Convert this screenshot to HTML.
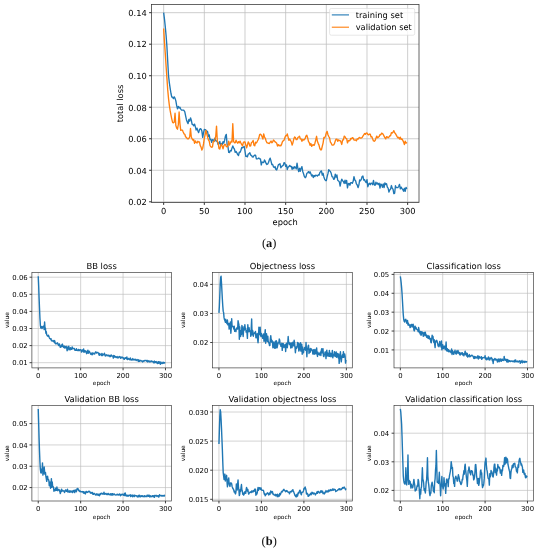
<!DOCTYPE html>
<html lang="en">
<head>
<meta charset="utf-8">
<title>Training and validation loss curves</title>
<style>
html,body{margin:0;padding:0;background:#fff;}
body{width:539px;height:550px;overflow:hidden;}
svg{display:block;}
text{text-rendering:geometricPrecision;}
svg{will-change:transform;transform:translateZ(0);}
</style>
</head>
<body>
<svg width="539" height="550" viewBox="0 0 539 550">
<rect width="539" height="550" fill="#fff"/>
<g>
<rect x="151.5" y="4.5" width="267.5" height="198" fill="#fff"/>
<path d="M163.66 4.5V202.5M204.32 4.5V202.5M244.99 4.5V202.5M285.66 4.5V202.5M326.32 4.5V202.5M366.99 4.5V202.5M407.65 4.5V202.5M151.5 201.8H419M151.5 170.28H419M151.5 138.76H419M151.5 107.24H419M151.5 75.72H419M151.5 44.2H419M151.5 12.68H419" stroke="#bdbdbd" stroke-width="0.75" fill="none"/>
<clipPath id="cA"><rect x="151.5" y="4.5" width="267.5" height="198"/></clipPath>
<g clip-path="url(#cA)">
<polyline points="163.66,12.68 164.47,18.98 165.29,26.86 166.1,35.53 166.91,46.56 167.73,61.54 168.54,75.72 169.35,82.81 170.17,88.33 170.98,93.52 171.79,97.04 172.61,97.11 173.42,98.56 174.23,96.89 175.05,98.35 175.86,100.87 176.67,105.57 177.49,108.81 178.3,106.39 179.11,108.05 179.93,107.17 180.74,109.08 181.55,110.07 182.37,110.09 183.18,110.13 183.99,110.49 184.81,111.86 185.62,115.96 186.43,119.68 187.25,121.93 188.06,123.61 188.87,119.5 189.69,121.14 190.5,117.82 191.31,120.15 192.13,124.36 192.94,124.52 193.75,125.77 194.57,124.1 195.38,126.86 196.19,129.96 197.01,128.16 197.82,130.65 198.63,132.66 199.45,129.88 200.26,128.6 201.07,129.06 201.88,131.09 202.7,137.31 203.51,132.93 204.32,129.46 205.14,129.55 205.95,130.18 206.76,131.14 207.58,131.66 208.39,136.31 209.2,134.87 210.02,139.67 210.83,139.27 211.64,142.3 212.46,139.61 213.27,139.95 214.08,141.43 214.9,138.21 215.71,140.93 216.52,140.85 217.34,141.89 218.15,144.57 218.96,143.19 219.78,141.42 220.59,145.71 221.4,143.37 222.22,144.52 223.03,141.63 223.84,143.1 224.66,140.19 225.47,136 226.28,134.35 227.1,144.35 227.91,146.31 228.72,152.46 229.54,152.62 230.35,150.57 231.16,151.03 231.98,148.15 232.79,145.91 233.6,147.79 234.42,149.21 235.23,152.26 236.04,151.46 236.86,152.82 237.67,154.61 238.48,155.5 239.3,152.28 240.11,152.26 240.92,150.26 241.74,147.4 242.55,147.79 243.36,147.07 244.18,146.41 244.99,150.99 245.8,156.34 246.62,156.21 247.43,156.88 248.24,154.04 249.06,153.68 249.87,152.75 250.68,155.22 251.5,155.45 252.31,156.86 253.12,157.11 253.94,155.72 254.75,155.11 255.56,155.15 256.38,158.84 257.19,158.82 258,158.6 258.82,158.05 259.63,158.87 260.44,158.89 261.26,164.95 262.07,162.02 262.88,162.37 263.7,162.46 264.51,160 265.32,161.44 266.14,163.5 266.95,164.52 267.76,164.02 268.58,162.32 269.39,159.65 270.2,158.12 271.02,161.2 271.83,164.64 272.64,164.37 273.46,166.76 274.27,167.61 275.08,166.56 275.9,169.47 276.71,169.93 277.52,167.57 278.34,164.87 279.15,164.27 279.96,163.73 280.78,167.72 281.59,166.68 282.4,165.82 283.22,165.37 284.03,162.6 284.84,163.11 285.66,166.43 286.47,164.86 287.28,169.58 288.1,167.07 288.91,166.56 289.72,165.34 290.54,166.46 291.35,166.5 292.16,169.39 292.98,166.89 293.79,168.8 294.6,166.7 295.42,167.31 296.23,168.98 297.04,163.09 297.86,168.34 298.67,171.58 299.48,168.3 300.3,171.22 301.11,168.19 301.92,166.6 302.74,171.47 303.55,173.72 304.36,176.45 305.18,177.69 305.99,176.81 306.8,173.43 307.62,172.6 308.43,171.63 309.24,173.09 310.06,171.77 310.87,173.73 311.68,175.95 312.5,174.99 313.31,177.56 314.12,175.55 314.94,176.43 315.75,175.22 316.56,175.42 317.38,176.09 318.19,174.92 319,175.21 319.82,172.58 320.63,171.57 321.44,170.85 322.26,175.18 323.07,173.27 323.88,176.92 324.7,179.36 325.51,180.46 326.32,180.56 327.14,176.61 327.95,173.67 328.76,169.68 329.58,170.8 330.39,171.43 331.2,173.35 332.02,176.55 332.83,176.97 333.64,179.4 334.46,178.93 335.27,174.18 336.08,177.16 336.9,174.89 337.71,180.24 338.52,180.91 339.34,181.94 340.15,186.04 340.96,181.79 341.78,179.18 342.59,180.76 343.4,181.47 344.22,183.46 345.03,180.07 345.84,183.25 346.66,180.48 347.47,187.86 348.28,183.86 349.1,183.4 349.91,185.2 350.72,182.74 351.54,182.64 352.35,183.28 353.16,181.3 353.98,176.62 354.79,179.97 355.6,180.76 356.42,183.96 357.23,185.02 358.04,187.67 358.86,185.1 359.67,179.97 360.48,180.69 361.3,179.32 362.11,176.49 362.92,175.99 363.74,180.1 364.55,179.67 365.36,181.59 366.18,182.61 366.99,179.58 367.8,186.74 368.62,184.2 369.43,183.24 370.24,184.77 371.05,183.09 371.87,183.48 372.68,184.71 373.49,180.32 374.31,184.99 375.12,185.34 375.93,182.27 376.75,184.07 377.56,182.98 378.37,184.66 379.19,183.31 380,188.05 380.81,184.02 381.63,184.73 382.44,187.25 383.25,183.88 384.07,187.51 384.88,182.94 385.69,184.44 386.51,183.76 387.32,187.16 388.13,188.13 388.95,192.03 389.76,189.91 390.57,189.1 391.39,185.56 392.2,188.19 393.01,189.13 393.83,193.68 394.64,193.29 395.45,185.74 396.27,187.66 397.08,187.69 397.89,187.54 398.71,186.24 399.52,184.36 400.33,188.9 401.15,187.1 401.96,188.66 402.77,189.53 403.59,191.23 404.4,188.29 405.21,191.43 406.03,187.34 406.84,188.88" fill="none" stroke="#1f77b4" stroke-width="1.35" stroke-linejoin="round" stroke-linecap="butt"/>
<polyline points="163.66,28.44 164.47,41.84 165.29,53.66 166.1,66.26 166.91,78.08 167.73,89.9 168.54,98.57 169.35,105.35 170.17,110.71 170.98,115.12 171.79,119.06 172.61,122.33 173.42,122.86 174.23,122.15 175.05,113.23 175.86,125.58 176.67,128.09 177.49,129.22 178.3,124.66 179.11,111.97 179.93,123.61 180.74,130.34 181.55,130.1 182.37,130.06 183.18,132 183.99,133.79 184.81,134.25 185.62,136.95 186.43,137.27 187.25,138.55 188.06,138.98 188.87,138.31 189.69,136.99 190.5,128.52 191.31,137.09 192.13,138.97 192.94,140.19 193.75,139.56 194.57,143.36 195.38,140.84 196.19,142.52 197.01,143.04 197.82,141.31 198.63,141.96 199.45,141.83 200.26,145.65 201.07,147.06 201.88,149.98 202.7,148.2 203.51,143.93 204.32,138.28 205.14,134.54 205.95,130.49 206.76,133.87 207.58,136.81 208.39,139.89 209.2,141 210.02,145.5 210.83,146.76 211.64,147.31 212.46,146.96 213.27,141.37 214.08,141.48 214.9,139.77 215.71,136.43 216.52,126.15 217.34,141.3 218.15,142.7 218.96,148.36 219.78,149.03 220.59,146.02 221.4,144.1 222.22,146.24 223.03,148.76 223.84,145.89 224.66,144.42 225.47,144.36 226.28,146.56 227.1,146.83 227.91,146.03 228.72,141.18 229.54,144.98 230.35,143.2 231.16,141.2 231.98,141.94 232.79,123.79 233.6,141.4 234.42,142.76 235.23,142.75 236.04,140.16 236.86,142.03 237.67,143.19 238.48,141.66 239.3,142.82 240.11,141.16 240.92,143.1 241.74,144.63 242.55,145.84 243.36,142.28 244.18,141.97 244.99,142.02 245.8,144.95 246.62,147.73 247.43,145.04 248.24,141.86 249.06,143.24 249.87,146.07 250.68,145.75 251.5,142.46 252.31,141.95 253.12,140.45 253.94,145.17 254.75,145.8 255.56,142.24 256.38,142.93 257.19,141.55 258,140.05 258.82,138.03 259.63,134.58 260.44,134.19 261.26,135.01 262.07,136.85 262.88,139.12 263.7,133.85 264.51,137.01 265.32,138.28 266.14,141.06 266.95,142.74 267.76,142.86 268.58,143.41 269.39,143.5 270.2,142.07 271.02,141.06 271.83,142.8 272.64,141.95 273.46,140.01 274.27,140.83 275.08,141.86 275.9,142.41 276.71,143.31 277.52,145.99 278.34,144.64 279.15,145.87 279.96,145.22 280.78,145.85 281.59,144.38 282.4,141.81 283.22,140.77 284.03,140.24 284.84,137.74 285.66,135.68 286.47,135.72 287.28,133.95 288.1,137.13 288.91,140.26 289.72,139.04 290.54,140.49 291.35,142.06 292.16,145.01 292.98,142.46 293.79,139.04 294.6,136.98 295.42,137.64 296.23,139.69 297.04,139.51 297.86,137.55 298.67,137.02 299.48,136.17 300.3,138.79 301.11,138.98 301.92,141.35 302.74,139.4 303.55,140.09 304.36,139.57 305.18,138.52 305.99,135.95 306.8,135.17 307.62,137.68 308.43,141.44 309.24,142.56 310.06,145.32 310.87,143.52 311.68,146.3 312.5,145.18 313.31,144.7 314.12,145.4 314.94,143.19 315.75,139.84 316.56,136.31 317.38,141.36 318.19,143.36 319,145.11 319.82,148.34 320.63,149.92 321.44,149.79 322.26,146.27 323.07,143.04 323.88,137.53 324.7,137.85 325.51,135.94 326.32,132.89 327.14,131.35 327.95,134.73 328.76,136.48 329.58,137.91 330.39,142.03 331.2,143.15 332.02,145.1 332.83,145.16 333.64,144.93 334.46,143.63 335.27,140.96 336.08,139.13 336.9,139.06 337.71,141.4 338.52,139.87 339.34,140.52 340.15,140.67 340.96,141.99 341.78,144.48 342.59,139.87 343.4,139.91 344.22,136.13 345.03,136.72 345.84,138.26 346.66,138.63 347.47,142.93 348.28,140.68 349.1,140.76 349.91,140.55 350.72,138.39 351.54,138.9 352.35,137.59 353.16,138.13 353.98,140.04 354.79,140.1 355.6,140 356.42,140.82 357.23,138.79 358.04,139.27 358.86,137.79 359.67,137.5 360.48,138.18 361.3,138 362.11,137.53 362.92,136.18 363.74,134.97 364.55,133.51 365.36,134.37 366.18,133.09 366.99,132.97 367.8,134.41 368.62,134.87 369.43,134.05 370.24,134.25 371.05,136.95 371.87,136.74 372.68,138.96 373.49,140.92 374.31,141.21 375.12,140.41 375.93,138.22 376.75,136.1 377.56,137.82 378.37,137.15 379.19,136.51 380,134.62 380.81,134.75 381.63,133.09 382.44,133.54 383.25,134.49 384.07,136.12 384.88,137.73 385.69,138.89 386.51,136.74 387.32,136.96 388.13,137.87 388.95,137.04 389.76,135.78 390.57,135.74 391.39,132.69 392.2,133.16 393.01,132.16 393.83,130.65 394.64,132.81 395.45,133.57 396.27,135.05 397.08,136.63 397.89,137.82 398.71,137.3 399.52,139.08 400.33,137.21 401.15,139.47 401.96,138.86 402.77,140.33 403.59,142.13 404.4,144.58 405.21,141.19 406.03,143.16 406.84,142.35" fill="none" stroke="#ff7f0e" stroke-width="1.35" stroke-linejoin="round" stroke-linecap="butt"/>
</g>
<path d="M163.66 202.5v2.4M204.32 202.5v2.4M244.99 202.5v2.4M285.66 202.5v2.4M326.32 202.5v2.4M366.99 202.5v2.4M407.65 202.5v2.4M151.5 201.8h-2.4M151.5 170.28h-2.4M151.5 138.76h-2.4M151.5 107.24h-2.4M151.5 75.72h-2.4M151.5 44.2h-2.4M151.5 12.68h-2.4" stroke="#222" stroke-width="0.95" fill="none"/>
<rect x="151.5" y="4.5" width="267.5" height="198" fill="none" stroke="#333" stroke-width="0.75"/>
<g font-family="'DejaVu Sans','Liberation Sans',sans-serif" font-size="8.3" fill="#000">
<text x="163.66" y="214.3" text-anchor="middle">0</text>
<text x="204.32" y="214.3" text-anchor="middle">50</text>
<text x="244.99" y="214.3" text-anchor="middle">100</text>
<text x="285.66" y="214.3" text-anchor="middle">150</text>
<text x="326.32" y="214.3" text-anchor="middle">200</text>
<text x="366.99" y="214.3" text-anchor="middle">250</text>
<text x="407.65" y="214.3" text-anchor="middle">300</text>
<text x="146.8" y="205.08" text-anchor="end">0.02</text>
<text x="146.8" y="173.56" text-anchor="end">0.04</text>
<text x="146.8" y="142.04" text-anchor="end">0.06</text>
<text x="146.8" y="110.52" text-anchor="end">0.08</text>
<text x="146.8" y="79" text-anchor="end">0.10</text>
<text x="146.8" y="47.48" text-anchor="end">0.12</text>
<text x="146.8" y="15.96" text-anchor="end">0.14</text>
</g>
<g font-family="'DejaVu Sans','Liberation Sans',sans-serif" font-size="8.3" fill="#000">
<text x="285.25" y="224.6" text-anchor="middle">epoch</text>
<text transform="translate(123.4 103.5) rotate(-90)" text-anchor="middle">total loss</text>
</g>
</g>
<g><rect x="329.6" y="8.5" width="85.1" height="26.7" rx="1.6" fill="#fff" fill-opacity="0.8" stroke="#d6d6d6" stroke-width="0.6"/><path d="M331.8 14.9H349" stroke="#1f77b4" stroke-width="1.1"/><path d="M331.8 27.2H349" stroke="#ff7f0e" stroke-width="1.1"/><g font-family="'DejaVu Sans','Liberation Sans',sans-serif" font-size="8.3" fill="#000"><text x="355.7" y="17.5">training set</text><text x="355.7" y="29.8">validation set</text></g></g>
<text x="269.2" y="247.1" text-anchor="middle" font-family="'Liberation Serif','DejaVu Serif',serif" font-size="12.4" fill="#111">(<tspan font-weight="bold">a</tspan>)</text>
<g>
<rect x="31.9" y="272.5" width="139.5" height="95.4" fill="#fff"/>
<path d="M38.24 272.5V367.9M80.66 272.5V367.9M123.07 272.5V367.9M165.48 272.5V367.9M31.9 362.7H171.4M31.9 345.6H171.4M31.9 328.5H171.4M31.9 311.4H171.4M31.9 294.3H171.4M31.9 277.2H171.4" stroke="#bdbdbd" stroke-width="0.65" fill="none"/>
<clipPath id="c0"><rect x="31.9" y="272.5" width="139.5" height="95.4"/></clipPath>
<g clip-path="url(#c0)">
<polyline points="38.24,276.34 38.67,285.75 39.09,297.72 39.51,307.98 39.94,318.24 40.36,325.08 40.79,328.01 41.21,327.69 41.63,326.57 42.06,328.5 42.48,327.36 42.91,326.47 43.33,326.93 43.75,326.07 44.18,329.64 44.6,322 45.03,327.98 45.45,328.2 45.88,333.3 46.3,331.79 46.72,334.8 47.15,335.34 47.57,336.04 48,336.19 48.42,335.17 48.84,336.2 49.27,337.49 49.69,338.51 50.12,338.59 50.54,339.23 50.97,338.67 51.39,340.71 51.81,340.31 52.24,340.76 52.66,341.05 53.09,341.03 53.51,341.43 53.93,340.41 54.36,342.45 54.78,340.82 55.21,343.4 55.63,343.86 56.05,343.43 56.48,343.39 56.9,343.74 57.33,342.81 57.75,343.25 58.18,344.26 58.6,345.47 59.02,345.46 59.45,343.99 59.87,345.49 60.3,347.35 60.72,346.78 61.14,346.79 61.57,345 61.99,346.54 62.42,344.07 62.84,345.98 63.27,346.7 63.69,347.44 64.11,346.02 64.54,347.43 64.96,348.15 65.39,346.78 65.81,347.47 66.23,346.34 66.66,347.76 67.08,350.76 67.51,347.08 67.93,349.92 68.35,346.53 68.78,346.35 69.2,348.73 69.63,349.57 70.05,349.9 70.48,347.74 70.9,348.91 71.32,349.4 71.75,349.15 72.17,347 72.6,348.75 73.02,348.44 73.44,348.49 73.87,348.33 74.29,348.36 74.72,350.09 75.14,349.7 75.57,350.27 75.99,350.29 76.41,348.66 76.84,350.23 77.26,349.91 77.69,350.53 78.11,350.51 78.53,349.35 78.96,350.51 79.38,350.6 79.81,349.82 80.23,349.89 80.66,349.71 81.08,350.34 81.5,352.07 81.93,350.14 82.35,350.35 82.78,350 83.2,351.68 83.62,348.93 84.05,352.2 84.47,350.64 84.9,351.31 85.32,351.85 85.74,350.85 86.17,351.87 86.59,353.68 87.02,352.8 87.44,351.54 87.87,350.15 88.29,353.34 88.71,352.22 89.14,351.1 89.56,351.9 89.99,352.81 90.41,353.76 90.83,354.15 91.26,353.4 91.68,353.15 92.11,354.76 92.53,354.37 92.96,352.81 93.38,353.46 93.8,353.81 94.23,353.59 94.65,353.99 95.08,352.65 95.5,352.14 95.92,351.86 96.35,353.03 96.77,353.07 97.2,352.56 97.62,352.41 98.04,352.7 98.47,352.97 98.89,354.52 99.32,355.36 99.74,353.45 100.17,354.29 100.59,354.33 101.01,355.06 101.44,355.45 101.86,353.38 102.29,354.19 102.71,355.47 103.13,354.39 103.56,354.53 103.98,354.42 104.41,353.15 104.83,355 105.26,356.04 105.68,355.08 106.1,355.68 106.53,354.82 106.95,355.15 107.38,355.11 107.8,355.89 108.22,355.2 108.65,355.98 109.07,355.26 109.5,355.95 109.92,356.65 110.34,355.48 110.77,356.47 111.19,354.9 111.62,355.73 112.04,355.78 112.47,356.13 112.89,356.32 113.31,358.14 113.74,355.48 114.16,357.09 114.59,355.82 115.01,357.09 115.43,356.79 115.86,356.92 116.28,357.59 116.71,357.01 117.13,356.6 117.56,357.33 117.98,358.03 118.4,357.58 118.83,357.04 119.25,356.45 119.68,356.75 120.1,357.22 120.52,358.23 120.95,356.91 121.37,357.62 121.8,357.88 122.22,357.11 122.64,357.39 123.07,357.55 123.49,358.82 123.92,358.49 124.34,359.35 124.77,358.05 125.19,358.23 125.61,357.65 126.04,358.24 126.46,358.72 126.89,357.02 127.31,359.33 127.73,359.62 128.16,359.17 128.58,358.43 129.01,359.12 129.43,359.25 129.86,359.8 130.28,358.04 130.7,359.58 131.13,359.97 131.55,359.37 131.98,359.91 132.4,359.58 132.82,358.55 133.25,359.86 133.67,359.66 134.1,359.93 134.52,359.86 134.95,359.22 135.37,359.47 135.79,360.13 136.22,360.59 136.64,360.1 137.07,359.49 137.49,360.13 137.91,360.26 138.34,361.45 138.76,359.6 139.19,361.34 139.61,361.26 140.03,360.7 140.46,360.47 140.88,360.52 141.31,361.12 141.73,360.87 142.16,361.12 142.58,361.98 143,361 143.43,361.34 143.85,360.66 144.28,361.09 144.7,360.39 145.12,360.61 145.55,360.52 145.97,360.36 146.4,360.74 146.82,361.35 147.25,360.39 147.67,361.92 148.09,361.38 148.52,360.84 148.94,361.63 149.37,361.02 149.79,362.04 150.21,361.91 150.64,361.25 151.06,361.19 151.49,360.92 151.91,361.77 152.33,361.58 152.76,361.41 153.18,361.55 153.61,362.72 154.03,362.29 154.46,361.06 154.88,362.8 155.3,361.66 155.73,362.37 156.15,361.52 156.58,362.67 157,362.2 157.42,363.53 157.85,362.34 158.27,361.69 158.7,363.33 159.12,361.71 159.55,362.93 159.97,362.56 160.39,364.28 160.82,361.95 161.24,363.19 161.67,363.03 162.09,363.52 162.51,363.39 162.94,362.14 163.36,363.18 163.79,362.37 164.21,363.06 164.63,362.79 165.06,363.35" fill="none" stroke="#1f77b4" stroke-width="1.4" stroke-linejoin="round" stroke-linecap="butt"/>
</g>
<path d="M38.24 367.9v2.4M80.66 367.9v2.4M123.07 367.9v2.4M165.48 367.9v2.4M31.9 362.7h-2.4M31.9 345.6h-2.4M31.9 328.5h-2.4M31.9 311.4h-2.4M31.9 294.3h-2.4M31.9 277.2h-2.4" stroke="#222" stroke-width="0.8500000000000001" fill="none"/>
<rect x="31.9" y="272.5" width="139.5" height="95.4" fill="none" stroke="#333" stroke-width="0.65"/>
<g font-family="'DejaVu Sans','Liberation Sans',sans-serif" font-size="6.9" fill="#000">
<text x="38.24" y="377.6" text-anchor="middle">0</text>
<text x="80.66" y="377.6" text-anchor="middle">100</text>
<text x="123.07" y="377.6" text-anchor="middle">200</text>
<text x="165.48" y="377.6" text-anchor="middle">300</text>
<text x="27.7" y="365.47" text-anchor="end">0.01</text>
<text x="27.7" y="348.37" text-anchor="end">0.02</text>
<text x="27.7" y="331.27" text-anchor="end">0.03</text>
<text x="27.7" y="314.17" text-anchor="end">0.04</text>
<text x="27.7" y="297.07" text-anchor="end">0.05</text>
<text x="27.7" y="279.97" text-anchor="end">0.06</text>
</g>
<g font-family="'DejaVu Sans','Liberation Sans',sans-serif" font-size="5.8" fill="#000">
<text x="101.65" y="385.4" text-anchor="middle">epoch</text>
<text transform="translate(8.7 320.2) rotate(-90)" text-anchor="middle">value</text>
</g>
<text x="101.65" y="269" text-anchor="middle" font-family="'DejaVu Sans','Liberation Sans',sans-serif" font-size="8.4" fill="#000">BB loss</text>
</g>
<g>
<rect x="212.6" y="272.5" width="139.7" height="95.4" fill="#fff"/>
<path d="M218.95 272.5V367.9M261.42 272.5V367.9M303.9 272.5V367.9M346.37 272.5V367.9M212.6 342.5H352.3M212.6 313.45H352.3M212.6 284.4H352.3" stroke="#bdbdbd" stroke-width="0.65" fill="none"/>
<clipPath id="c1"><rect x="212.6" y="272.5" width="139.7" height="95.4"/></clipPath>
<g clip-path="url(#c1)">
<polyline points="218.95,312.87 219.37,306.19 219.8,295.44 220.22,284.4 220.65,277.43 221.07,276.27 221.5,282.95 221.92,291.08 222.35,298.92 222.77,305.9 223.2,311.13 223.62,312.68 224.05,317.67 224.47,319.63 224.9,320.42 225.32,322.2 225.75,319.23 226.17,322.17 226.6,322.96 227.02,323.64 227.44,320 227.87,324.82 228.29,324.71 228.72,323.35 229.14,329.13 229.57,327.1 229.99,324.08 230.42,321.98 230.84,333.2 231.27,327.85 231.69,318.68 232.12,326.52 232.54,326.61 232.97,326.34 233.39,327.27 233.82,329.16 234.24,326.24 234.67,331.33 235.09,330.04 235.52,329.67 235.94,331.56 236.36,328.44 236.79,327.88 237.21,328.15 237.64,329.1 238.06,320.71 238.49,322.78 238.91,324.66 239.34,339.22 239.76,326.91 240.19,335.45 240.61,336.55 241.04,330.35 241.46,334.58 241.89,325.47 242.31,327.15 242.74,332.65 243.16,336.43 243.59,330.43 244.01,326.64 244.43,330.03 244.86,324.65 245.28,328.51 245.71,328.34 246.13,332.16 246.56,330.56 246.98,332.43 247.41,338.36 247.83,324.71 248.26,331.53 248.68,331.76 249.11,327.81 249.53,331.39 249.96,331.65 250.38,331.06 250.81,336.32 251.23,328.28 251.66,318.97 252.08,334.76 252.51,330.28 252.93,331.6 253.35,336.26 253.78,333.43 254.2,333.63 254.63,332.68 255.05,332.53 255.48,331.51 255.9,337.79 256.33,334.9 256.75,337.62 257.18,333.49 257.6,338.99 258.03,342.75 258.45,337.69 258.88,327.31 259.3,330.44 259.73,334.51 260.15,327.1 260.58,335.21 261,336.48 261.42,333.41 261.85,334.95 262.27,336.63 262.7,338.37 263.12,337.54 263.55,334.01 263.97,341.32 264.4,340.55 264.82,334.17 265.25,329.6 265.67,343.19 266.1,338.21 266.52,333.74 266.95,339.23 267.37,341.4 267.8,336.12 268.22,341.27 268.65,342.8 269.07,342.75 269.5,345.56 269.92,345.4 270.34,338.8 270.77,335.67 271.19,339.99 271.62,342.13 272.04,340.38 272.47,342.42 272.89,347.82 273.32,347.07 273.74,341.95 274.17,343.88 274.59,347.99 275.02,348.38 275.44,341.08 275.87,347.9 276.29,340.72 276.72,341.83 277.14,347.73 277.57,345.3 277.99,343.54 278.41,342.59 278.84,342.71 279.26,339.04 279.69,339.98 280.11,344.53 280.54,344.11 280.96,346.27 281.39,345.34 281.81,343.29 282.24,350.4 282.66,343.86 283.09,343.47 283.51,344.14 283.94,347.59 284.36,345.98 284.79,346.42 285.21,344.44 285.64,351.51 286.06,346.24 286.49,343.11 286.91,346.89 287.33,347.74 287.76,342.87 288.18,336.45 288.61,341.77 289.03,342.54 289.46,344.62 289.88,342.85 290.31,343.23 290.73,348.01 291.16,344.88 291.58,342.88 292.01,347.61 292.43,345.15 292.86,342.24 293.28,342.76 293.71,345.92 294.13,340.23 294.56,342.57 294.98,346.84 295.4,352.69 295.83,348.76 296.25,346.89 296.68,348.23 297.1,347.31 297.53,342.48 297.95,344.27 298.38,343.07 298.8,351.03 299.23,348.22 299.65,343.99 300.08,349.81 300.5,342.64 300.93,351.1 301.35,350.63 301.78,344.28 302.2,354.26 302.63,347.11 303.05,352.19 303.48,352.74 303.9,349.4 304.32,349.28 304.75,347.54 305.17,349.43 305.6,350.23 306.02,342.5 306.45,349.23 306.87,356.77 307.3,348.92 307.72,349.07 308.15,345.82 308.57,345.31 309,353.47 309.42,348.97 309.85,352.36 310.27,352.11 310.7,348.48 311.12,348.92 311.55,349.08 311.97,350.69 312.39,350.25 312.82,354 313.24,353.26 313.67,349.7 314.09,354.3 314.52,353.53 314.94,349.56 315.37,351.28 315.79,353.81 316.22,351.1 316.64,347.92 317.07,353.95 317.49,356.43 317.92,352.27 318.34,354.49 318.77,353.44 319.19,353.94 319.62,355 320.04,352.87 320.47,351.97 320.89,355.5 321.31,350.31 321.74,348.68 322.16,352.76 322.59,352.42 323.01,348.78 323.44,356.07 323.86,356.62 324.29,354.86 324.71,353.75 325.14,351.86 325.56,352.67 325.99,358.64 326.41,351.59 326.84,350.19 327.26,356 327.69,352.84 328.11,355.66 328.54,355.56 328.96,356.35 329.38,350.41 329.81,356.21 330.23,354.92 330.66,353.18 331.08,356.82 331.51,355.78 331.93,355.28 332.36,350.4 332.78,357.76 333.21,355.47 333.63,354.59 334.06,355.83 334.48,351.69 334.91,354.8 335.33,356.49 335.76,353.44 336.18,351.86 336.61,357.32 337.03,353.61 337.46,353.53 337.88,355.57 338.3,357.93 338.73,353.89 339.15,363.42 339.58,358.24 340,357.76 340.43,351.81 340.85,357.32 341.28,361.86 341.7,357.99 342.13,356.28 342.55,354.6 342.98,357.31 343.4,351.6 343.83,357.2 344.25,356.33 344.68,353.9 345.1,356.25 345.53,363.12 345.95,359.93" fill="none" stroke="#1f77b4" stroke-width="1.4" stroke-linejoin="round" stroke-linecap="butt"/>
</g>
<path d="M218.95 367.9v2.4M261.42 367.9v2.4M303.9 367.9v2.4M346.37 367.9v2.4M212.6 342.5h-2.4M212.6 313.45h-2.4M212.6 284.4h-2.4" stroke="#222" stroke-width="0.8500000000000001" fill="none"/>
<rect x="212.6" y="272.5" width="139.7" height="95.4" fill="none" stroke="#333" stroke-width="0.65"/>
<g font-family="'DejaVu Sans','Liberation Sans',sans-serif" font-size="6.9" fill="#000">
<text x="218.95" y="377.6" text-anchor="middle">0</text>
<text x="261.42" y="377.6" text-anchor="middle">100</text>
<text x="303.9" y="377.6" text-anchor="middle">200</text>
<text x="346.37" y="377.6" text-anchor="middle">300</text>
<text x="208.4" y="345.27" text-anchor="end">0.02</text>
<text x="208.4" y="316.22" text-anchor="end">0.03</text>
<text x="208.4" y="287.17" text-anchor="end">0.04</text>
</g>
<g font-family="'DejaVu Sans','Liberation Sans',sans-serif" font-size="5.8" fill="#000">
<text x="282.45" y="385.4" text-anchor="middle">epoch</text>
<text transform="translate(184.8 320.2) rotate(-90)" text-anchor="middle">value</text>
</g>
<text x="282.45" y="269" text-anchor="middle" font-family="'DejaVu Sans','Liberation Sans',sans-serif" font-size="8.4" fill="#000">Objectness loss</text>
</g>
<g>
<rect x="394" y="272.5" width="139.4" height="95.4" fill="#fff"/>
<path d="M400.34 272.5V367.9M442.72 272.5V367.9M485.1 272.5V367.9M527.49 272.5V367.9M394 349.92H533.4M394 331.04H533.4M394 312.16H533.4M394 293.28H533.4M394 274.4H533.4" stroke="#bdbdbd" stroke-width="0.65" fill="none"/>
<clipPath id="c2"><rect x="394" y="272.5" width="139.4" height="95.4"/></clipPath>
<g clip-path="url(#c2)">
<polyline points="400.34,276.29 400.76,279.12 401.18,282.9 401.61,287.62 402.03,293.28 402.46,300.83 402.88,308.38 403.3,314.99 403.73,319.33 404.15,321.23 404.57,322.01 405,319.91 405.42,319.82 405.85,319.33 406.27,321.4 406.69,323.17 407.12,322.5 407.54,320.47 407.97,324.97 408.39,323.2 408.81,325.08 409.24,325.33 409.66,324.87 410.08,327.59 410.51,327.17 410.93,324.82 411.36,324.49 411.78,324.47 412.2,326.97 412.63,325.38 413.05,324.23 413.48,325.19 413.9,329.92 414.32,330.91 414.75,327.46 415.17,326.26 415.59,328.86 416.02,327.39 416.44,329 416.87,329.36 417.29,329.54 417.71,329.96 418.14,331.46 418.56,327.46 418.99,329.49 419.41,332.57 419.83,332.33 420.26,334.04 420.68,331.45 421.1,335.34 421.53,333.56 421.95,331.8 422.38,332.44 422.8,332.69 423.22,336.29 423.65,332.9 424.07,334.88 424.5,332.41 424.92,335.72 425.34,332.31 425.77,334.98 426.19,334.66 426.61,337.13 427.04,337.47 427.46,337.75 427.89,335.44 428.31,338.49 428.73,338.18 429.16,336.07 429.58,337.62 430,339.39 430.43,338.68 430.85,342.19 431.28,342.7 431.7,339.35 432.12,335.28 432.55,336.94 432.97,336.23 433.4,340.16 433.82,342.48 434.24,339.72 434.67,344.25 435.09,347.64 435.51,341.69 435.94,340.79 436.36,341.67 436.79,340.32 437.21,342.06 437.63,343.1 438.06,345.99 438.48,344.5 438.91,346.71 439.33,345.41 439.75,341.34 440.18,344.77 440.6,344.68 441.02,346.93 441.45,340.93 441.87,349.81 442.3,348.04 442.72,344.74 443.14,348.19 443.57,348.52 443.99,346.32 444.42,346.12 444.84,346.49 445.26,349.65 445.69,346.86 446.11,341.99 446.53,350.52 446.96,350.92 447.38,348.68 447.81,350.19 448.23,351.43 448.65,349.78 449.08,351.81 449.5,351.02 449.93,350.82 450.35,351.4 450.77,352.29 451.2,352.82 451.62,349 452.04,354.43 452.47,350.65 452.89,352.59 453.32,352.57 453.74,354.38 454.16,351.72 454.59,352.65 455.01,350.29 455.44,352.89 455.86,353.78 456.28,354.05 456.71,351.01 457.13,351.7 457.55,353.13 457.98,350.44 458.4,352.51 458.83,353.4 459.25,352.43 459.67,354.7 460.1,353.23 460.52,354.94 460.95,352.88 461.37,352.94 461.79,353.98 462.22,352.67 462.64,354.92 463.06,353.58 463.49,354.47 463.91,355.76 464.34,353.76 464.76,352.72 465.18,351.25 465.61,354.71 466.03,354.37 466.45,353.09 466.88,356.25 467.3,353.5 467.73,357.1 468.15,356.63 468.57,355.69 469,355.96 469.42,354.57 469.85,356.88 470.27,355.95 470.69,356.28 471.12,355.82 471.54,355.42 471.96,355.17 472.39,355.92 472.81,355.95 473.24,356.39 473.66,358.19 474.08,358.56 474.51,356.34 474.93,358.24 475.36,357.67 475.78,356.67 476.2,357.32 476.63,357.85 477.05,358.01 477.47,357.1 477.9,355.69 478.32,359 478.75,357.57 479.17,356.4 479.59,357.17 480.02,358.11 480.44,357.53 480.87,357.21 481.29,356.66 481.71,359.34 482.14,358.66 482.56,357.59 482.98,357.5 483.41,357.74 483.83,357.64 484.26,357.24 484.68,357.72 485.1,355.72 485.53,358.94 485.95,358.69 486.38,359.81 486.8,357.9 487.22,358.3 487.65,358.74 488.07,359.74 488.49,356.84 488.92,358.37 489.34,358.05 489.77,360.16 490.19,358.64 490.61,358.54 491.04,357.47 491.46,358.59 491.89,358.2 492.31,360.69 492.73,359.51 493.16,363.51 493.58,359.52 494,359.76 494.43,359.84 494.85,358.44 495.28,360.06 495.7,359.07 496.12,359.15 496.55,360.11 496.97,359.7 497.4,361.96 497.82,360.42 498.24,358.96 498.67,360.5 499.09,361.77 499.51,359.17 499.94,361.16 500.36,358.91 500.79,360.13 501.21,361.24 501.63,360.75 502.06,358.86 502.48,360.07 502.9,360.32 503.33,360.15 503.75,360.46 504.18,356.34 504.6,359.86 505.02,359.19 505.45,360.36 505.87,359.16 506.3,359.59 506.72,361.76 507.14,359.98 507.57,359.5 507.99,362.24 508.41,361.1 508.84,360.31 509.26,361.42 509.69,360.74 510.11,361.04 510.53,361.58 510.96,360.99 511.38,361.25 511.81,361 512.23,361.03 512.65,361.56 513.08,361.69 513.5,361.57 513.92,360.76 514.35,361.94 514.77,360.18 515.2,361.9 515.62,359.84 516.04,361.46 516.47,361.65 516.89,361.74 517.32,361.03 517.74,361.29 518.16,362.11 518.59,361.35 519.01,361.17 519.43,361.41 519.86,360.65 520.28,363.4 520.71,361.82 521.13,362.14 521.55,361.41 521.98,360.41 522.4,362.77 522.83,362.42 523.25,362.04 523.67,361.25 524.1,361.22 524.52,362.47 524.94,361.43 525.37,362.09 525.79,361.39 526.22,362.06 526.64,361.79 527.06,362.18" fill="none" stroke="#1f77b4" stroke-width="1.4" stroke-linejoin="round" stroke-linecap="butt"/>
</g>
<path d="M400.34 367.9v2.4M442.72 367.9v2.4M485.1 367.9v2.4M527.49 367.9v2.4M394 349.92h-2.4M394 331.04h-2.4M394 312.16h-2.4M394 293.28h-2.4M394 274.4h-2.4" stroke="#222" stroke-width="0.8500000000000001" fill="none"/>
<rect x="394" y="272.5" width="139.4" height="95.4" fill="none" stroke="#333" stroke-width="0.65"/>
<g font-family="'DejaVu Sans','Liberation Sans',sans-serif" font-size="6.9" fill="#000">
<text x="400.34" y="377.6" text-anchor="middle">0</text>
<text x="442.72" y="377.6" text-anchor="middle">100</text>
<text x="485.1" y="377.6" text-anchor="middle">200</text>
<text x="527.49" y="377.6" text-anchor="middle">300</text>
<text x="389.2" y="352.69" text-anchor="end">0.01</text>
<text x="389.2" y="333.81" text-anchor="end">0.02</text>
<text x="389.2" y="314.93" text-anchor="end">0.03</text>
<text x="389.2" y="296.05" text-anchor="end">0.04</text>
<text x="389.2" y="277.17" text-anchor="end">0.05</text>
</g>
<g font-family="'DejaVu Sans','Liberation Sans',sans-serif" font-size="5.8" fill="#000">
<text x="463.7" y="385.4" text-anchor="middle">epoch</text>
<text transform="translate(370.5 320.2) rotate(-90)" text-anchor="middle">value</text>
</g>
<text x="463.7" y="269" text-anchor="middle" font-family="'DejaVu Sans','Liberation Sans',sans-serif" font-size="8.4" fill="#000">Classification loss</text>
</g>
<g>
<rect x="31.9" y="405.5" width="139.5" height="95.5" fill="#fff"/>
<path d="M38.24 405.5V501M80.66 405.5V501M123.07 405.5V501M165.48 405.5V501M31.9 487.59H171.4M31.9 466.26H171.4M31.9 444.93H171.4M31.9 423.6H171.4" stroke="#bdbdbd" stroke-width="0.65" fill="none"/>
<clipPath id="c3"><rect x="31.9" y="405.5" width="139.5" height="95.5"/></clipPath>
<g clip-path="url(#c3)">
<polyline points="38.24,409.1 38.67,423.6 39.09,438.53 39.51,451.33 39.94,461.99 40.36,469.46 40.79,472.66 41.21,473.11 41.63,468.86 42.06,471.47 42.48,462.85 42.91,475.15 43.33,473.28 43.75,472.91 44.18,466.9 44.6,471.91 45.03,474.26 45.45,472.37 45.88,476.33 46.3,478.54 46.72,481.37 47.15,476.49 47.57,476.23 48,479.44 48.42,479.39 48.84,480.41 49.27,485.78 49.69,484.92 50.12,482.07 50.54,488.22 50.97,484.55 51.39,478.63 51.81,487.41 52.24,482.04 52.66,486.53 53.09,486.5 53.51,487.28 53.93,491.28 54.36,490.42 54.78,489.44 55.21,490.67 55.63,488.23 56.05,490.4 56.48,490.33 56.9,487.06 57.33,489.65 57.75,490.69 58.18,489.3 58.6,490.08 59.02,489.52 59.45,490.35 59.87,491.7 60.3,493.56 60.72,492.22 61.14,490.08 61.57,489.21 61.99,491.17 62.42,490.35 62.84,490.37 63.27,491.07 63.69,490.89 64.11,490.93 64.54,492.44 64.96,491.36 65.39,490.26 65.81,489.89 66.23,491.07 66.66,491.32 67.08,490.44 67.51,489.19 67.93,492.09 68.35,491.98 68.78,491.71 69.2,490.84 69.63,492.17 70.05,491.01 70.48,492.12 70.9,491.01 71.32,491.84 71.75,491.98 72.17,490.93 72.6,492.52 73.02,492.01 73.44,490.58 73.87,490.4 74.29,490.73 74.72,492.59 75.14,490.01 75.57,490.17 75.99,490.59 76.41,491.74 76.84,489.35 77.26,488.48 77.69,489.33 78.11,488.86 78.53,490.6 78.96,490.13 79.38,490.95 79.81,491.49 80.23,491.08 80.66,491.68 81.08,491.69 81.5,491.83 81.93,491.69 82.35,491.73 82.78,491.55 83.2,492.69 83.62,491.66 84.05,493.36 84.47,492.11 84.9,492.22 85.32,493.94 85.74,492.45 86.17,491.36 86.59,491.78 87.02,492.43 87.44,492.42 87.87,491.77 88.29,491.83 88.71,491.31 89.14,491.75 89.56,491.36 89.99,491.87 90.41,492.85 90.83,493.18 91.26,492.98 91.68,492.46 92.11,493.52 92.53,492.42 92.96,494.29 93.38,493.54 93.8,494.15 94.23,493.43 94.65,493.7 95.08,494.05 95.5,494.96 95.92,494.86 96.35,494.85 96.77,493.85 97.2,495.14 97.62,494.5 98.04,494.08 98.47,495.17 98.89,494.81 99.32,495.84 99.74,494.48 100.17,493.59 100.59,494.59 101.01,493.58 101.44,493.16 101.86,493.32 102.29,493.89 102.71,493.48 103.13,494.12 103.56,493.98 103.98,492.13 104.41,494.11 104.83,494.26 105.26,493.73 105.68,493.68 106.1,493.4 106.53,494.44 106.95,494.67 107.38,494.65 107.8,493.55 108.22,493.37 108.65,494.6 109.07,494.48 109.5,494.19 109.92,494.84 110.34,494.57 110.77,493.67 111.19,495.1 111.62,494.11 112.04,493.62 112.47,495.11 112.89,493.73 113.31,494.45 113.74,494.81 114.16,493.93 114.59,494.45 115.01,494.67 115.43,494.9 115.86,495.08 116.28,494.92 116.71,494.74 117.13,494.13 117.56,494.78 117.98,494.46 118.4,494.9 118.83,494.38 119.25,494.73 119.68,493.92 120.1,494.56 120.52,495.77 120.95,494.83 121.37,495.04 121.8,494.21 122.22,494.8 122.64,494.3 123.07,494.39 123.49,495.28 123.92,495.1 124.34,493.56 124.77,495.62 125.19,492.97 125.61,494.73 126.04,495.84 126.46,495.96 126.89,495.07 127.31,495.41 127.73,496.14 128.16,496.27 128.58,495.28 129.01,495.59 129.43,495.12 129.86,495.46 130.28,494.78 130.7,496.52 131.13,495.14 131.55,496 131.98,496.1 132.4,495.04 132.82,496.74 133.25,495.71 133.67,495.9 134.1,495.03 134.52,496.56 134.95,495.55 135.37,495.49 135.79,495.79 136.22,495.74 136.64,495.9 137.07,496.65 137.49,496.15 137.91,496.95 138.34,495.36 138.76,495.37 139.19,496.7 139.61,495.27 140.03,496.05 140.46,496.81 140.88,496.39 141.31,495.69 141.73,496.08 142.16,496.63 142.58,495.7 143,496.19 143.43,496.37 143.85,496.78 144.28,495.85 144.7,495.67 145.12,496.69 145.55,496.29 145.97,496.27 146.4,496.04 146.82,496.7 147.25,495.07 147.67,495.98 148.09,495.66 148.52,496.3 148.94,495.03 149.37,495.89 149.79,497.07 150.21,495.6 150.64,496.15 151.06,496.67 151.49,496.15 151.91,496.59 152.33,495.76 152.76,495.81 153.18,496.83 153.61,495.79 154.03,495.59 154.46,497.38 154.88,495.46 155.3,495.77 155.73,495.67 156.15,495.36 156.58,496.08 157,496.46 157.42,495.83 157.85,496.08 158.27,495.76 158.7,497.11 159.12,496.15 159.55,494.66 159.97,495.73 160.39,495.41 160.82,495.71 161.24,496.02 161.67,495.43 162.09,495.46 162.51,495.97 162.94,495.88 163.36,495.45 163.79,496.13 164.21,496.13 164.63,495.16 165.06,495.15" fill="none" stroke="#1f77b4" stroke-width="1.4" stroke-linejoin="round" stroke-linecap="butt"/>
</g>
<path d="M38.24 501v2.4M80.66 501v2.4M123.07 501v2.4M165.48 501v2.4M31.9 487.59h-2.4M31.9 466.26h-2.4M31.9 444.93h-2.4M31.9 423.6h-2.4" stroke="#222" stroke-width="0.8500000000000001" fill="none"/>
<rect x="31.9" y="405.5" width="139.5" height="95.5" fill="none" stroke="#333" stroke-width="0.65"/>
<g font-family="'DejaVu Sans','Liberation Sans',sans-serif" font-size="6.9" fill="#000">
<text x="38.24" y="510.6" text-anchor="middle">0</text>
<text x="80.66" y="510.6" text-anchor="middle">100</text>
<text x="123.07" y="510.6" text-anchor="middle">200</text>
<text x="165.48" y="510.6" text-anchor="middle">300</text>
<text x="27.7" y="490.36" text-anchor="end">0.02</text>
<text x="27.7" y="469.03" text-anchor="end">0.03</text>
<text x="27.7" y="447.7" text-anchor="end">0.04</text>
<text x="27.7" y="426.37" text-anchor="end">0.05</text>
</g>
<g font-family="'DejaVu Sans','Liberation Sans',sans-serif" font-size="5.8" fill="#000">
<text x="101.65" y="518.6" text-anchor="middle">epoch</text>
<text transform="translate(8.7 453.25) rotate(-90)" text-anchor="middle">value</text>
</g>
<text x="101.65" y="402.2" text-anchor="middle" font-family="'DejaVu Sans','Liberation Sans',sans-serif" font-size="8.4" fill="#000">Validation BB loss</text>
</g>
<g>
<rect x="212.6" y="405.5" width="139.7" height="95.5" fill="#fff"/>
<path d="M218.95 405.5V501M261.42 405.5V501M303.9 405.5V501M346.37 405.5V501M212.6 499.3H352.3M212.6 470.2H352.3M212.6 441.1H352.3M212.6 412H352.3" stroke="#bdbdbd" stroke-width="0.65" fill="none"/>
<clipPath id="c4"><rect x="212.6" y="405.5" width="139.7" height="95.5"/></clipPath>
<g clip-path="url(#c4)">
<polyline points="218.95,444.01 219.37,430.62 219.8,416.66 220.22,409.67 220.65,412 221.07,418.98 221.5,428.3 221.92,438.77 222.35,449.25 222.77,462.05 223.2,472.53 223.62,476.04 224.05,479.53 224.47,476.22 224.9,474.07 225.32,480.96 225.75,478.15 226.17,478.47 226.6,475.32 227.02,482.22 227.44,486.82 227.87,481.15 228.29,479.34 228.72,477.87 229.14,484.25 229.57,485.71 229.99,486.44 230.42,482.95 230.84,483.03 231.27,483.03 231.69,483.78 232.12,486.72 232.54,487.49 232.97,488.63 233.39,489 233.82,490.32 234.24,491.97 234.67,491.26 235.09,493.08 235.52,493.95 235.94,491.91 236.36,484 236.79,489 237.21,490 237.64,483.51 238.06,479.92 238.49,487.73 238.91,490.23 239.34,495.65 239.76,494.26 240.19,489.78 240.61,491.37 241.04,487.26 241.46,484.52 241.89,489.9 242.31,490.72 242.74,494.18 243.16,492.96 243.59,495.04 244.01,494.52 244.43,493.19 244.86,491.78 245.28,491.89 245.71,493.36 246.13,489.69 246.56,487.36 246.98,488.88 247.41,491.07 247.83,489.46 248.26,492.18 248.68,494.16 249.11,493.25 249.53,492.69 249.96,492.23 250.38,491.92 250.81,491.87 251.23,492.64 251.66,490.85 252.08,490.99 252.51,491.81 252.93,492.08 253.35,490.62 253.78,490.76 254.2,491.17 254.63,489.12 255.05,489.5 255.48,489.18 255.9,495.2 256.33,493.05 256.75,494.21 257.18,493.02 257.6,490.37 258.03,487.51 258.45,490.34 258.88,488.18 259.3,487.67 259.73,487.88 260.15,489.23 260.58,489.33 261,487.83 261.42,490.11 261.85,490.14 262.27,490.29 262.7,490.4 263.12,490.2 263.55,490.66 263.97,492.86 264.4,494.23 264.82,493.57 265.25,495.74 265.67,495.03 266.1,494.12 266.52,494.23 266.95,493.38 267.37,492.81 267.8,493.18 268.22,493.65 268.65,494.93 269.07,493.37 269.5,493.03 269.92,494.66 270.34,492.59 270.77,490.95 271.19,492.41 271.62,491.79 272.04,493.02 272.47,491.57 272.89,493.86 273.32,494.61 273.74,494.17 274.17,494.98 274.59,494.92 275.02,495.29 275.44,495.75 275.87,494.3 276.29,495.22 276.72,495.07 277.14,496.49 277.57,494.22 277.99,496.69 278.41,495.33 278.84,494.99 279.26,496.16 279.69,493.56 280.11,495 280.54,494.24 280.96,492.99 281.39,491.84 281.81,491.34 282.24,491.96 282.66,490.87 283.09,490.66 283.51,489.53 283.94,489.29 284.36,490.53 284.79,490.72 285.21,490.64 285.64,491.74 286.06,491.43 286.49,490.54 286.91,491.19 287.33,490.94 287.76,491.98 288.18,492.19 288.61,492.24 289.03,491.97 289.46,493.81 289.88,492.78 290.31,492 290.73,491.47 291.16,491.62 291.58,491.73 292.01,490.37 292.43,490.3 292.86,489.66 293.28,491.47 293.71,491.77 294.13,493.06 294.56,494.16 294.98,495.57 295.4,496 295.83,496.73 296.25,495.07 296.68,496.83 297.1,494.25 297.53,496.16 297.95,494.24 298.38,492.38 298.8,493.32 299.23,492.34 299.65,490.32 300.08,490.18 300.5,491.87 300.93,493.84 301.35,494.75 301.78,492.44 302.2,492.27 302.63,492.21 303.05,492.06 303.48,490.88 303.9,488.62 304.32,488.07 304.75,488.75 305.17,487.05 305.6,488.83 306.02,490.11 306.45,493.93 306.87,493.47 307.3,493.26 307.72,494.03 308.15,496.4 308.57,496.14 309,495.03 309.42,495.39 309.85,494.27 310.27,494.38 310.7,493.2 311.12,494.85 311.55,493.69 311.97,492.25 312.39,493.65 312.82,492.72 313.24,493.87 313.67,493.97 314.09,493.05 314.52,493.43 314.94,493.39 315.37,494.91 315.79,493.84 316.22,493.89 316.64,492.68 317.07,491.79 317.49,493.32 317.92,491.37 318.34,491.44 318.77,491.57 319.19,492.6 319.62,493.02 320.04,492.77 320.47,492.11 320.89,490.76 321.31,491.91 321.74,490.91 322.16,492.25 322.59,491.2 323.01,493.58 323.44,493.59 323.86,492.91 324.29,493.96 324.71,493.54 325.14,491.85 325.56,492.14 325.99,490.58 326.41,491.9 326.84,491.93 327.26,491.78 327.69,490.86 328.11,491.97 328.54,490.28 328.96,489.92 329.38,491.12 329.81,490.46 330.23,490.61 330.66,489.57 331.08,490.53 331.51,490.34 331.93,490.39 332.36,489.13 332.78,489.02 333.21,490.38 333.63,489.14 334.06,489.12 334.48,489.72 334.91,489.39 335.33,489.83 335.76,491.5 336.18,491.23 336.61,491.03 337.03,490.65 337.46,490.43 337.88,490.04 338.3,489.45 338.73,489.52 339.15,488.64 339.58,489.03 340,489.95 340.43,489.06 340.85,489.6 341.28,489.61 341.7,489 342.13,488.48 342.55,487.52 342.98,488.22 343.4,487.6 343.83,487.91 344.25,487.1 344.68,488.05 345.1,488.51 345.53,489.77 345.95,488.33" fill="none" stroke="#1f77b4" stroke-width="1.4" stroke-linejoin="round" stroke-linecap="butt"/>
</g>
<path d="M218.95 501v2.4M261.42 501v2.4M303.9 501v2.4M346.37 501v2.4M212.6 499.3h-2.4M212.6 470.2h-2.4M212.6 441.1h-2.4M212.6 412h-2.4" stroke="#222" stroke-width="0.8500000000000001" fill="none"/>
<rect x="212.6" y="405.5" width="139.7" height="95.5" fill="none" stroke="#333" stroke-width="0.65"/>
<g font-family="'DejaVu Sans','Liberation Sans',sans-serif" font-size="6.9" fill="#000">
<text x="218.95" y="510.6" text-anchor="middle">0</text>
<text x="261.42" y="510.6" text-anchor="middle">100</text>
<text x="303.9" y="510.6" text-anchor="middle">200</text>
<text x="346.37" y="510.6" text-anchor="middle">300</text>
<text x="208.4" y="502.07" text-anchor="end">0.015</text>
<text x="208.4" y="472.97" text-anchor="end">0.020</text>
<text x="208.4" y="443.87" text-anchor="end">0.025</text>
<text x="208.4" y="414.77" text-anchor="end">0.030</text>
</g>
<g font-family="'DejaVu Sans','Liberation Sans',sans-serif" font-size="5.8" fill="#000">
<text x="282.45" y="518.6" text-anchor="middle">epoch</text>
<text transform="translate(184.8 453.25) rotate(-90)" text-anchor="middle">value</text>
</g>
<text x="282.45" y="402.2" text-anchor="middle" font-family="'DejaVu Sans','Liberation Sans',sans-serif" font-size="8.4" fill="#000">Validation objectness loss</text>
</g>
<g>
<rect x="394" y="405.5" width="139.4" height="95.5" fill="#fff"/>
<path d="M400.34 405.5V501M442.72 405.5V501M485.1 405.5V501M527.49 405.5V501M394 490.4H533.4M394 461.8H533.4M394 433.2H533.4" stroke="#bdbdbd" stroke-width="0.65" fill="none"/>
<clipPath id="c5"><rect x="394" y="405.5" width="139.4" height="95.5"/></clipPath>
<g clip-path="url(#c5)">
<polyline points="400.34,408.89 400.76,411.75 401.18,417.47 401.61,424.05 402.03,436.06 402.46,450.07 402.88,463.23 403.3,476.1 403.73,480.39 404.15,482.96 404.57,483.55 405,484.24 405.42,480.84 405.85,467.82 406.27,479.88 406.69,484.82 407.12,479.82 407.54,475.75 407.97,454.97 408.39,477.74 408.81,484.39 409.24,480.55 409.66,481.28 410.08,481.37 410.51,484.56 410.93,488.05 411.36,484.1 411.78,486.75 412.2,485.81 412.63,487.89 413.05,486.03 413.48,482.61 413.9,479.34 414.32,482.55 414.75,485.01 415.17,491.03 415.59,489.56 416.02,490.19 416.44,489.61 416.87,486.96 417.29,485.31 417.71,486.19 418.14,479.38 418.56,480.77 418.99,485.05 419.41,491.81 419.83,498.76 420.26,489.72 420.68,494.11 421.1,488.15 421.53,486.73 421.95,477.86 422.38,467.69 422.8,478.83 423.22,480.41 423.65,482.79 424.07,489.61 424.5,490.84 424.92,488.82 425.34,493.02 425.77,488.33 426.19,481.86 426.61,480.12 427.04,471 427.46,457.71 427.89,476.21 428.31,481.9 428.73,484.63 429.16,488.89 429.58,493.48 430,495.59 430.43,493.05 430.85,493.19 431.28,485.96 431.7,483.87 432.12,482.15 432.55,484.73 432.97,486.78 433.4,491.29 433.82,489.24 434.24,492.79 434.67,482.19 435.09,479.03 435.51,470.19 435.94,465.68 436.36,450.52 436.79,467.06 437.21,482.26 437.63,481.62 438.06,482.76 438.48,483.47 438.91,479.08 439.33,472.21 439.75,481.72 440.18,486.37 440.6,495.82 441.02,488.53 441.45,483.31 441.87,476.45 442.3,484.99 442.72,486.91 443.14,488.95 443.57,486.48 443.99,477.8 444.42,483.22 444.84,485.79 445.26,483.91 445.69,493.41 446.11,486.42 446.53,479.51 446.96,478.98 447.38,482.34 447.81,481.75 448.23,486.6 448.65,478.74 449.08,478.98 449.5,475.67 449.93,473.54 450.35,471.39 450.77,468.31 451.2,461.59 451.62,464.83 452.04,468.34 452.47,467.55 452.89,476.09 453.32,477.18 453.74,483.51 454.16,482.25 454.59,486.4 455.01,478.87 455.44,477.21 455.86,476.14 456.28,478.48 456.71,477.94 457.13,481 457.55,481.11 457.98,477.25 458.4,474.68 458.83,476.77 459.25,478.04 459.67,481.39 460.1,481.64 460.52,483.41 460.95,484.63 461.37,483.87 461.79,482.77 462.22,479.23 462.64,479.8 463.06,475.93 463.49,474.27 463.91,470.68 464.34,474.17 464.76,466.59 465.18,464.16 465.61,469.75 466.03,473.28 466.45,477.63 466.88,480.58 467.3,486.36 467.73,477.59 468.15,470.81 468.57,470.33 469,466.93 469.42,469.41 469.85,472.88 470.27,472.94 470.69,474.77 471.12,470.59 471.54,471.92 471.96,470.81 472.39,471.63 472.81,475.05 473.24,475 473.66,479.85 474.08,479.22 474.51,477.02 474.93,472.54 475.36,464.83 475.78,464.53 476.2,469.12 476.63,476.72 477.05,478.92 477.47,483.66 477.9,481.54 478.32,478.41 478.75,485.35 479.17,483.47 479.59,479.01 480.02,477.51 480.44,471.08 480.87,469.86 481.29,474.38 481.71,473.03 482.14,484.42 482.56,487.64 482.98,485.14 483.41,485.66 483.83,483.16 484.26,478.13 484.68,469.08 485.1,462.31 485.53,460.63 485.95,458.08 486.38,465.3 486.8,469.4 487.22,471.3 487.65,474.79 488.07,478.03 488.49,478.64 488.92,479.08 489.34,485.15 489.77,473.8 490.19,477.08 490.61,475.78 491.04,470.49 491.46,471.31 491.89,471.98 492.31,473.79 492.73,476.4 493.16,476.95 493.58,474.01 494,467.13 494.43,464.18 494.85,464.29 495.28,472.62 495.7,468.13 496.12,472.36 496.55,475.14 496.97,469.14 497.4,470.83 497.82,464.51 498.24,467.73 498.67,466.6 499.09,467.86 499.51,467.58 499.94,469.49 500.36,473.06 500.79,470.35 501.21,469.94 501.63,475.39 502.06,470.84 502.48,470.71 502.9,465.38 503.33,466.6 503.75,466.26 504.18,462.96 504.6,457.79 505.02,464.19 505.45,462.24 505.87,457.14 506.3,462.83 506.72,458.38 507.14,458.68 507.57,459.69 507.99,464.7 508.41,466.34 508.84,468.58 509.26,470.25 509.69,471.77 510.11,478.25 510.53,478.51 510.96,472.27 511.38,469.72 511.81,468.56 512.23,465.32 512.65,465.26 513.08,467.49 513.5,463.78 513.92,464.04 514.35,463.66 514.77,463.19 515.2,466.82 515.62,466.99 516.04,467.7 516.47,471.26 516.89,470.07 517.32,472.82 517.74,468.44 518.16,464.79 518.59,467.23 519.01,461.06 519.43,459.07 519.86,458.34 520.28,461.51 520.71,462.77 521.13,465.06 521.55,463.88 521.98,466.05 522.4,467.04 522.83,472.38 523.25,470.67 523.67,470.05 524.1,474.08 524.52,474.43 524.94,473.32 525.37,477.08 525.79,477.84 526.22,475.81 526.64,477.02 527.06,475.74" fill="none" stroke="#1f77b4" stroke-width="1.4" stroke-linejoin="round" stroke-linecap="butt"/>
</g>
<path d="M400.34 501v2.4M442.72 501v2.4M485.1 501v2.4M527.49 501v2.4M394 490.4h-2.4M394 461.8h-2.4M394 433.2h-2.4" stroke="#222" stroke-width="0.8500000000000001" fill="none"/>
<rect x="394" y="405.5" width="139.4" height="95.5" fill="none" stroke="#333" stroke-width="0.65"/>
<g font-family="'DejaVu Sans','Liberation Sans',sans-serif" font-size="6.9" fill="#000">
<text x="400.34" y="510.6" text-anchor="middle">0</text>
<text x="442.72" y="510.6" text-anchor="middle">100</text>
<text x="485.1" y="510.6" text-anchor="middle">200</text>
<text x="527.49" y="510.6" text-anchor="middle">300</text>
<text x="389.2" y="493.17" text-anchor="end">0.02</text>
<text x="389.2" y="464.57" text-anchor="end">0.03</text>
<text x="389.2" y="435.97" text-anchor="end">0.04</text>
</g>
<g font-family="'DejaVu Sans','Liberation Sans',sans-serif" font-size="5.8" fill="#000">
<text x="463.7" y="518.6" text-anchor="middle">epoch</text>
<text transform="translate(370.5 453.25) rotate(-90)" text-anchor="middle">value</text>
</g>
<text x="463.7" y="402.2" text-anchor="middle" font-family="'DejaVu Sans','Liberation Sans',sans-serif" font-size="8.4" fill="#000">Validation classification loss</text>
</g>
<text x="269.2" y="545.4" text-anchor="middle" font-family="'Liberation Serif','DejaVu Serif',serif" font-size="12.4" fill="#111">(<tspan font-weight="bold">b</tspan>)</text>
</svg>
</body>
</html>
